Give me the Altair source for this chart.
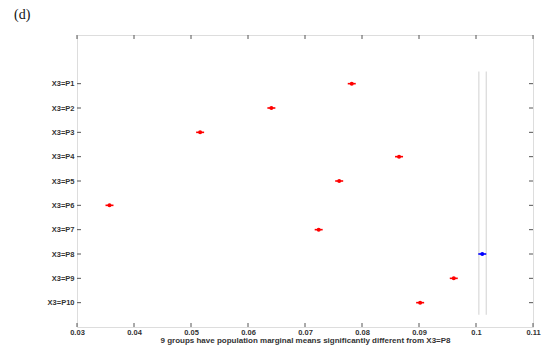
import altair as alt
import pandas as pd

# ---- data ----
groups = ["X3=P1", "X3=P2", "X3=P3", "X3=P4", "X3=P5",
          "X3=P6", "X3=P7", "X3=P8", "X3=P9", "X3=P10"]
means = [0.0782, 0.0641, 0.0516, 0.0865, 0.0760,
         0.0357, 0.0724, 0.1011, 0.0961, 0.0902]
half_widths = [0.0007, 0.0007, 0.0007, 0.0007, 0.0007,
               0.0007, 0.0007, 0.0007, 0.0007, 0.0007]
positions = [10, 9, 8, 7, 6, 5, 4, 3, 2, 1]
selected_group = "X3=P8"
x_domain = [0.03, 0.11]
y_domain = [0, 12]
x_ticks = [0.03, 0.04, 0.05, 0.06, 0.07, 0.08, 0.09, 0.10, 0.11]
x_tick_labels = ["0.03", "0.04", "0.05", "0.06", "0.07", "0.08", "0.09", "0.1", "0.11"]
ref_lines = [0.1005, 0.1018]
ref_span = [0.5, 10.5]
x_title = "9 groups have population marginal means significantly different from X3=P8"
panel_label = ["(d)"]

W, H = 456, 292
AX = "#555555"
TXT = "#333333"

df = pd.DataFrame({
    "group": groups,
    "mean": means,
    "lo": [m - h for m, h in zip(means, half_widths)],
    "hi": [m + h for m, h in zip(means, half_widths)],
    "pos": positions,
    "color": ["#0000ff" if g == selected_group else "#ff0000" for g in groups],
})

label_arr = [""] * (max(positions) + 1)
for g, p in zip(groups, positions):
    label_arr[p] = g
y_label_expr = "[" + ",".join("'%s'" % s for s in label_arr) + "][datum.value]"
x_label_expr = "{" + ",".join("'%s':'%s'" % (format(v, '.2f'), l) for v, l in zip(x_ticks, x_tick_labels)) + "}[format(datum.value, '.2f')]"

xs = alt.Scale(domain=x_domain, nice=False, zero=False)
ys = alt.Scale(domain=y_domain, nice=False, zero=False)

x_axis = alt.Axis(values=x_ticks, labelExpr=x_label_expr, title=x_title,
                  domain=False, ticks=False, grid=False, labelPadding=1,
                  labelOverlap=False, labelBound=False, labelFlush=False,
                  labelFont="Liberation Sans", labelFontSize=7.5, labelFontWeight="bold",
                  labelColor=TXT, titleFont="Liberation Sans", titleFontSize=8,
                  titleFontWeight="bold", titleColor=TXT, titlePadding=1)
y_axis = alt.Axis(values=positions, labelExpr=y_label_expr, title=None,
                  domain=False, ticks=False, grid=False, labelPadding=3,
                  labelOverlap=False, labelBound=False, labelFlush=False,
                  labelFont="Liberation Sans", labelFontSize=7.5, labelFontWeight="bold",
                  labelColor=TXT)

base = alt.Chart(df)

ref = alt.Chart(pd.DataFrame({"x": ref_lines, "y1": [ref_span[0]] * len(ref_lines),
                              "y2": [ref_span[1]] * len(ref_lines)})).mark_rule(
    color="#d9d9d9", strokeWidth=1.2).encode(
    x=alt.X("x:Q", scale=xs, axis=x_axis),
    y=alt.Y("y1:Q", scale=ys, axis=y_axis),
    y2="y2:Q")

bars = base.mark_rule(strokeWidth=1.6).encode(
    x=alt.X("lo:Q", scale=xs, axis=x_axis), x2="hi:Q",
    y=alt.Y("pos:Q", scale=ys, axis=y_axis),
    color=alt.Color("color:N", scale=None))

pts = base.mark_point(filled=True, shape="circle", size=16, opacity=1).encode(
    x=alt.X("mean:Q", scale=xs, axis=x_axis),
    y=alt.Y("pos:Q", scale=ys, axis=y_axis),
    color=alt.Color("color:N", scale=None))

tick_df = pd.DataFrame({"t": x_ticks})
ytick_df = pd.DataFrame({"p": positions})
tb = alt.Chart(tick_df).mark_rule(color=AX, strokeWidth=1).encode(
    x=alt.X("t:Q", scale=xs, axis=x_axis), y=alt.value(H), y2=alt.value(H - 4))
tt = alt.Chart(tick_df).mark_rule(color=AX, strokeWidth=1).encode(
    x=alt.X("t:Q", scale=xs, axis=x_axis), y=alt.value(0), y2=alt.value(4))
tl = alt.Chart(ytick_df).mark_rule(color=AX, strokeWidth=1).encode(
    y=alt.Y("p:Q", scale=ys, axis=y_axis), x=alt.value(0), x2=alt.value(4))
tr = alt.Chart(ytick_df).mark_rule(color=AX, strokeWidth=1).encode(
    y=alt.Y("p:Q", scale=ys, axis=y_axis), x=alt.value(W), x2=alt.value(W - 4))

lab = alt.Chart(pd.DataFrame({"t": panel_label})).mark_text(
    font="Liberation Serif", fontSize=14, color="#111111", align="left",
    baseline="middle").encode(text="t:N", x=alt.value(-63), y=alt.value(-20))

chart = alt.layer(ref, bars, pts, tb, tt, tl, tr, lab).properties(
    width=W, height=H,
    autosize=alt.AutoSizeParams(type="none"),
    padding={"left": 69, "top": 27, "right": 9, "bottom": 22},
).configure_view(stroke=AX, strokeWidth=1.2).configure_axis(
    labelOverlap=False).configure(background="white")

chart.save("out.html", embed_options={"renderer": "svg", "actions": False})
